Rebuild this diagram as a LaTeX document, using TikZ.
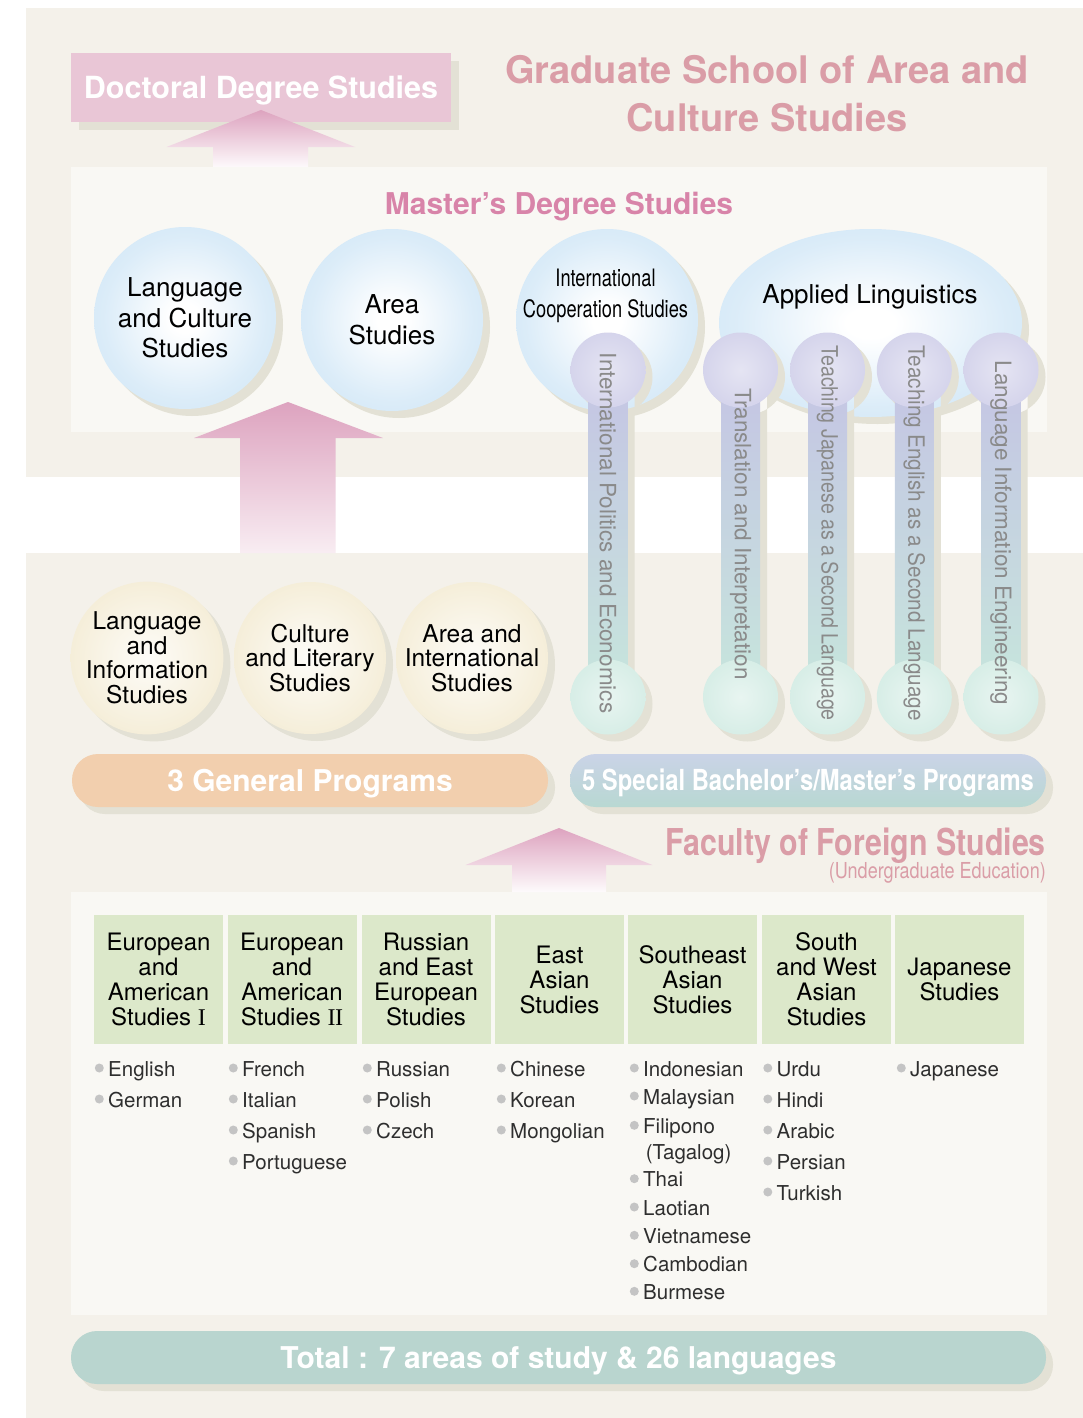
\documentclass[tikz,border=0pt]{standalone}
\usepackage{fontspec}
\setmainfont{TeX Gyre Heros}
\newfontfamily\condfont[FakeStretch=0.82]{TeX Gyre Heros}
\newfontfamily\narrowfont[FakeStretch=0.76]{TeX Gyre Heros}
\newfontfamily\pilljfont[FakeStretch=0.87]{TeX Gyre Heros}
\newfontfamily\pillefont[FakeStretch=0.92]{TeX Gyre Heros}
\newfontfamily\serifnum{Liberation Serif}
\usetikzlibrary{shapes.geometric, shadows, calc}

\definecolor{bgbeige}{HTML}{F4F1EA}
\definecolor{panelc}{HTML}{F9F8F4}
\definecolor{shadowc}{HTML}{E3E1D5}
\definecolor{pinkbox}{HTML}{E9C6D6}
\definecolor{titlepink}{HTML}{DA9DA7}
\definecolor{masterpink}{HTML}{D884A9}
\definecolor{arrowpink}{HTML}{DDA3BF}
\definecolor{bluec}{HTML}{B9DAF2}
\definecolor{yellc}{HTML}{EDE0BA}
\definecolor{lavc}{HTML}{C5C4E4}
\definecolor{mintc}{HTML}{C6E6DC}
\definecolor{peachc}{HTML}{F2CFAE}
\definecolor{spectop}{HTML}{CAD3E7}
\definecolor{specbot}{HTML}{B8D8D2}
\definecolor{totalc}{HTML}{B9D5CF}
\definecolor{greenc}{HTML}{DCE8CA}
\definecolor{pilltextc}{HTML}{8A8A8A}
\definecolor{bulgrey}{HTML}{C4C4C4}
\definecolor{langc}{HTML}{2E2E2E}

\pgfdeclareradialshading{bluesph}{\pgfpoint{0bp}{0bp}}{color(0bp)=(white); color(4bp)=(white); color(22bp)=(bluec!50!white); color(50bp)=(bluec)}
\pgfdeclareradialshading{yellsph}{\pgfpoint{0bp}{0bp}}{color(0bp)=(yellc!10!white); color(50bp)=(yellc)}
\pgfdeclareradialshading{lavsph}{\pgfpoint{0bp}{0bp}}{color(0bp)=(lavc!45!white); color(50bp)=(lavc)}
\pgfdeclareradialshading{mintsph}{\pgfpoint{0bp}{0bp}}{color(0bp)=(mintc!40!white); color(50bp)=(mintc)}

\begin{document}
\begin{tikzpicture}[x=1pt,y=-1pt]
		\tikzset{shad/.style = {general shadow={fill=shadowc, shadow xshift=7pt, shadow yshift=-7pt}}}
		\tikzset{bluecirc/.style = {shape=circle, minimum size=182pt, inner sep=0pt, shade, shading=bluesph, shad, align=center, font=\fontsize{26}{30.5}\selectfont}}
		\tikzset{yellcirc/.style = {shape=circle, minimum size=152pt, inner sep=0pt, shade, shading=yellsph, shad, align=center, font=\fontsize{24.5}{24.5}\selectfont}}
		\tikzset{topball/.style = {shape=circle, minimum size=75pt, inner sep=0pt, shade, shading=lavsph}}
		\tikzset{botball/.style = {shape=circle, minimum size=75pt, inner sep=0pt, shade, shading=mintsph}}
		\tikzset{bar/.style = {top color=lavc, bottom color=mintc}}
		\tikzset{pillshadow/.style = {fill=shadowc}}
		\tikzset{pilltext/.style = {rotate=-90, text=pilltextc, font=\fontsize{22.5}{22.5}\selectfont}}
		\tikzset{band/.style = {shape=rectangle, rounded corners=26pt, minimum width=476pt, minimum height=53pt, shad, text=white, text depth=0pt}}
		\tikzset{header/.style = {shape=rectangle, fill=greenc, minimum width=129pt, minimum height=129pt, inner sep=0pt, align=center, font=\fontsize{24}{25}\selectfont}}
		\tikzset{lang/.style = {anchor=base west, inner sep=0pt, text=langc, font=\fontsize{20.5}{20.5}\selectfont}}
		\tikzset{langb/.style = {lang, text height=15pt, text depth=5pt, label={[shape=circle, fill=bulgrey, inner sep=0pt, minimum size=9pt, yshift=3pt, label distance=4pt]left:{}}}}
		\tikzset{uparrow/.style = {top color=arrowpink}}

		\useasboundingbox (0,0) rectangle (1083,1418);
		\fill[white] (0,0) rectangle (1083,1418);
		\fill[bgbeige] (26,8) rectangle (1083,477);
		\fill[bgbeige] (26,553) rectangle (1083,1418);
		\fill[panelc] (71,167) rectangle (1047,432);
		\fill[panelc] (71,892) rectangle (1047,1315);

		\node[rectangle, fill=pinkbox, minimum width=380pt, minimum height=69pt, general shadow={fill=shadowc, shadow xshift=8pt, shadow yshift=-8pt}, text=white, font=\fontsize{30.5}{30.5}\selectfont\bfseries, text height=22pt, text depth=0pt] (doc) at (261,87.5) {Doctoral Degree Studies};
		\shade[uparrow, bottom color=arrowpink!6!white] (261,110) -- (355,147) -- (308,147) -- (308,167) -- (213,167) -- (213,147) -- (166.5,147) -- cycle;

		\node[align=center, text=titlepink, font=\fontsize{38}{48}\selectfont\bfseries] (title) at (767,94) {Graduate School of Area and\\Culture Studies};
		\node[anchor=base, inner sep=0pt, text=masterpink, font=\fontsize{30}{30}\selectfont\bfseries] (master) at (559,214) {Master’s Degree Studies};

		\shade[uparrow, bottom color=arrowpink!20!white] (288,402) -- (383,438) -- (335.5,438) -- (335.5,553) -- (240,553) -- (240,438) -- (194,438) -- cycle;

		\node[bluecirc] (LC) at (185,318) {Language\\and Culture\\Studies};
		\node[bluecirc] (AS) at (392,320) {Area\\Studies};
		\node[bluecirc] (IC) at (607,320) {};
		\node[shape=ellipse, minimum width=303pt, minimum height=188pt, inner sep=0pt, shade, shading=bluesph, shad] (AL) at (870.5,323) {};
		\node[align=center, font=\narrowfont\fontsize{24}{31}\selectfont] (IC_t) at (605.5,295.7) {International\\Cooperation Studies};
		\node[anchor=base, inner sep=0pt, font=\fontsize{26}{26}\selectfont] (AL_t) at (870,303) {Applied Linguistics};

		\path (608,370) coordinate (t_1) (608,697) coordinate (b_1);
		\path (740.5,370) coordinate (t_2) (740.5,697) coordinate (b_2);
		\path (827.5,370) coordinate (t_3) (827.5,697) coordinate (b_3);
		\path (914.3,370) coordinate (t_4) (914.3,697) coordinate (b_4);
		\path (1001,370) coordinate (t_5) (1001,697) coordinate (b_5);

		\fill[pillshadow] ($(t_1)+(7,7)$) circle (37.5) ($(b_1)+(7,7)$) circle (37.5) ($(t_1)+(-12.5,7)$) rectangle ($(b_1)+(26.5,7)$);
		\fill[pillshadow] ($(t_2)+(7,7)$) circle (37.5) ($(b_2)+(7,7)$) circle (37.5) ($(t_2)+(-12.5,7)$) rectangle ($(b_2)+(26.5,7)$);
		\fill[pillshadow] ($(t_3)+(7,7)$) circle (37.5) ($(b_3)+(7,7)$) circle (37.5) ($(t_3)+(-12.5,7)$) rectangle ($(b_3)+(26.5,7)$);
		\fill[pillshadow] ($(t_4)+(7,7)$) circle (37.5) ($(b_4)+(7,7)$) circle (37.5) ($(t_4)+(-12.5,7)$) rectangle ($(b_4)+(26.5,7)$);
		\fill[pillshadow] ($(t_5)+(7,7)$) circle (37.5) ($(b_5)+(7,7)$) circle (37.5) ($(t_5)+(-12.5,7)$) rectangle ($(b_5)+(26.5,7)$);

		\shade[bar] ($(t_1)+(-19.5,0)$) rectangle ($(b_1)+(19.5,0)$);
		\shade[bar] ($(t_2)+(-19.5,0)$) rectangle ($(b_2)+(19.5,0)$);
		\shade[bar] ($(t_3)+(-19.5,0)$) rectangle ($(b_3)+(19.5,0)$);
		\shade[bar] ($(t_4)+(-19.5,0)$) rectangle ($(b_4)+(19.5,0)$);
		\shade[bar] ($(t_5)+(-19.5,0)$) rectangle ($(b_5)+(19.5,0)$);

		\node[topball] (T_1) at (t_1) {};
		\node[topball] (T_2) at (t_2) {};
		\node[topball] (T_3) at (t_3) {};
		\node[topball] (T_4) at (t_4) {};
		\node[topball] (T_5) at (t_5) {};
		\node[botball] (B_1) at (b_1) {};
		\node[botball] (B_2) at (b_2) {};
		\node[botball] (B_3) at (b_3) {};
		\node[botball] (B_4) at (b_4) {};
		\node[botball] (B_5) at (b_5) {};

		\node[pilltext] (P_1) at (608,533) {International Politics and Economics};
		\node[pilltext] (P_2) at (740.5,534) {Translation and Interpretation};
		\node[pilltext] (P_3) at (827.5,533) {\pilljfont Teaching Japanese as a Second Language};
		\node[pilltext] (P_4) at (914.3,533) {\pillefont Teaching English as a Second Language};
		\node[pilltext] (P_5) at (1001,533) {Language Information Engineering};

		\node[yellcirc] (LI) at (147,658) {Language\\and\\Information\\Studies};
		\node[yellcirc] (CL) at (310,658) {Culture\\and Literary\\Studies};
		\node[yellcirc] (AI) at (472,658) {Area and\\International\\Studies};

		\node[band, fill=peachc, font=\fontsize{30}{30}\selectfont\bfseries, text height=21.6pt] (GP) at (310,780.5) {3 General Programs};
		\node[band, top color=spectop, bottom color=specbot, font=\condfont\bfseries\fontsize{29}{29}\selectfont, text height=20.8pt] (SP) at (808,780.5) {5 Special Bachelor’s/Master’s Programs};

		\shade[uparrow, bottom color=arrowpink!5!white] (559,828) -- (652.5,865) -- (606,865) -- (606,892) -- (512,892) -- (512,865) -- (465.5,865) -- cycle;

		\node[anchor=base east, inner sep=0pt, text=titlepink, font=\condfont\bfseries\fontsize{37}{37}\selectfont] (FFS) at (1046,855) {Faculty of Foreign Studies};
		\node[anchor=base east, inner sep=0pt, text=titlepink, font=\condfont\fontsize{22}{22}\selectfont] (UE) at (1046,878) {(Undergraduate Education)};

		\node[header] (H_1) at (158.5,979.5) {European\\and\\American\\Studies {\serifnum I}};
		\node[header] (H_2) at (292,979.5) {European\\and\\American\\Studies {\serifnum I\kern-0.5pt I}};
		\node[header] (H_3) at (426,979.5) {Russian\\and East\\European\\Studies};
		\node[header] (H_4) at (559.5,979.5) {East\\Asian\\Studies};
		\node[header] (H_5) at (692.5,979.5) {Southeast\\Asian\\Studies};
		\node[header] (H_6) at (826.5,979.5) {South\\and West\\Asian\\Studies};
		\node[header] (H_7) at (959.5,979.5) {Japanese\\Studies};

		\node[langb] (l_1_1) at (108,1076) {English};
		\node[langb] (l_1_2) at (108,1107) {German};

		\node[langb] (l_2_1) at (242,1076) {French};
		\node[langb] (l_2_2) at (242,1107) {Italian};
		\node[langb] (l_2_3) at (242,1138) {Spanish};
		\node[langb] (l_2_4) at (242,1169) {Portuguese};

		\node[langb] (l_3_1) at (376,1076) {Russian};
		\node[langb] (l_3_2) at (376,1107) {Polish};
		\node[langb] (l_3_3) at (376,1138) {Czech};

		\node[langb] (l_4_1) at (510,1076) {Chinese};
		\node[langb] (l_4_2) at (510,1107) {Korean};
		\node[langb] (l_4_3) at (510,1138) {Mongolian};

		\node[langb] (l_5_1) at (643,1076) {Indonesian};
		\node[langb] (l_5_2) at (643,1104) {Malaysian};
		\node[langb] (l_5_3) at (643,1133.3) {Filipono};
		\node[lang] (l_5_4) at (645.6,1159) {(Tagalog)};
		\node[langb] (l_5_5) at (643,1186.7) {Thai};
		\node[langb] (l_5_6) at (643,1215) {Laotian};
		\node[langb] (l_5_7) at (643,1243.3) {Vietnamese};
		\node[langb] (l_5_8) at (643,1271.7) {Cambodian};
		\node[langb] (l_5_9) at (643,1299.3) {Burmese};

		\node[langb] (l_6_1) at (776.5,1076) {Urdu};
		\node[langb] (l_6_2) at (776.5,1107) {Hindi};
		\node[langb] (l_6_3) at (776.5,1138) {Arabic};
		\node[langb] (l_6_4) at (776.5,1169) {Persian};
		\node[langb] (l_6_5) at (776.5,1200) {Turkish};

		\node[langb] (l_7_1) at (910,1076) {Japanese};

		\node[band, minimum width=975pt, fill=totalc, font=\fontsize{30}{30}\selectfont\bfseries, text height=21.6pt] (TOT) at (558.5,1357.5) {Total : 7 areas of study \& 26 languages};
	\end{tikzpicture}
\end{document}
